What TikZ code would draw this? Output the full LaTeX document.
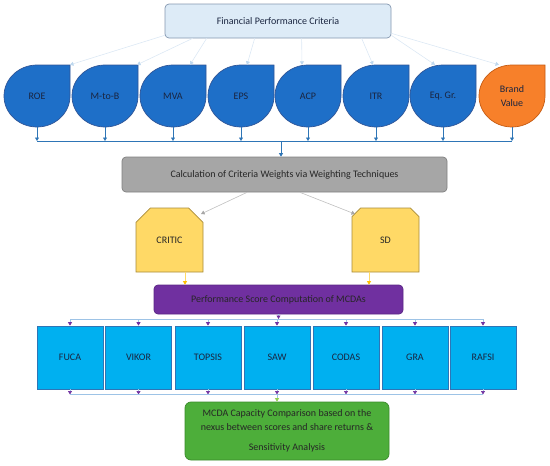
\documentclass[tikz,border=0pt]{standalone}
\usepackage{fontspec}
\setmainfont{Carlito}
\usetikzlibrary{arrows.meta, positioning, calc, shapes.misc}

\definecolor{headfill}{HTML}{DDEBF7}
\definecolor{headline}{HTML}{8497B0}
\definecolor{dropblue}{HTML}{1E6FC8}
\definecolor{dropline}{HTML}{2F5597}
\definecolor{brandorange}{HTML}{F7802A}
\definecolor{brandline}{HTML}{C55A11}
\definecolor{navytext}{HTML}{1A2540}
\definecolor{busblue}{HTML}{2E75B6}
\definecolor{paleblue}{HTML}{DCE8F4}
\definecolor{palehead}{HTML}{BDD7EE}
\definecolor{calcgray}{HTML}{A6A6A6}
\definecolor{calcline}{HTML}{808080}
\definecolor{weightyellow}{HTML}{FFD966}
\definecolor{weightline}{HTML}{A88B3A}
\definecolor{arrowyellow}{HTML}{FFC000}
\definecolor{perfpurple}{HTML}{7030A0}
\definecolor{perfline}{HTML}{5A2784}
\definecolor{mcdacyan}{HTML}{00B0F0}
\definecolor{linkblue}{HTML}{9DC3E6}
\definecolor{resultgreen}{HTML}{4DAE3A}
\definecolor{resultline}{HTML}{3A8A2A}
\definecolor{greenhead}{HTML}{92D050}

\begin{document}
\begin{tikzpicture}[x=1pt, y=1pt, font=\fontsize{10}{12}\selectfont,
    tip/.style={-{Triangle[length=3.5pt, width=4pt, color=#1]}},
    head/.style={draw=headline, fill=headfill, rounded corners=4pt, line width=0.7pt,
      minimum width=226pt, minimum height=34pt, text=navytext},
    drop/.style={minimum width=66pt, minimum height=62pt, inner sep=0pt, align=center, text=navytext},
    calcbox/.style={draw=calcline, fill=calcgray, rounded corners=4pt, line width=0.7pt,
      minimum width=325pt, minimum height=35pt, text=black!85},
    weight/.style={chamfered rectangle, chamfered rectangle corners={north west, north east},
      chamfered rectangle sep=11pt, draw=weightline, fill=weightyellow, line width=0.7pt,
      minimum width=67pt, minimum height=64pt, inner sep=0pt, text=black!85},
    perfbox/.style={draw=perfline, fill=perfpurple, rounded corners=4pt, line width=0.7pt,
      minimum width=249pt, minimum height=29pt, text=black!85},
    mcda/.style={draw=busblue, fill=mcdacyan, line width=0.7pt,
      minimum width=66pt, minimum height=63pt, text=navytext},
    result/.style={draw=resultline, fill=resultgreen, rounded corners=6pt, line width=0.7pt,
      minimum width=204pt, minimum height=58pt, align=center, text=black!85,
      font=\fontsize{10}{14}\selectfont},
    faint/.style={draw=paleblue, line width=0.6pt, tip=palehead},
    bus/.style={draw=busblue, line width=0.6pt},
    link/.style={draw=linkblue, line width=0.7pt}]
  \useasboundingbox (0,0) rectangle (550,-466);

  % criteria
  \node[head] (fpc) at (278,-21) {Financial Performance Criteria};
  \foreach \n/\x/\t/\c/\l in {roe/37/ROE/dropblue/dropline, mtob/105/M-to-B/dropblue/dropline,
      mva/173/MVA/dropblue/dropline, eps/241/EPS/dropblue/dropline, acp/308/ACP/dropblue/dropline,
      itr/376/ITR/dropblue/dropline, eqgr/443/Eq.\ Gr./dropblue/dropline,
      bv/512/Brand\\[2pt]Value/brandorange/brandline} {
    \filldraw[fill=\c, draw=\l, line width=0.7pt] (\x,-65) -- ++(33,0) -- ++(0,-31)
      arc[start angle=0, end angle=-270, x radius=33, y radius=31] -- cycle;
    \node[drop] (\n) at (\x,-96) {\t};
  }
  \draw[faint] ($(fpc.south west)+(0,3)$) -- ($(roe.north)+(33,0)$);
  \draw[faint] ($(fpc.south west)+(28,0)$) -- ($(mtob.north)+(32,0)$);
  \draw[faint] ($(fpc.south west)+(42,0)$) -- ($(mva.north)+(17,0)$);
  \draw[faint] ($(fpc.south west)+(90,0)$) -- ($(eps.north)+(6,0)$);
  \draw[faint] ($(fpc.south west)+(137,0)$) -- ($(acp.north)+(-6,0)$);
  \draw[faint] ($(fpc.south west)+(197,0)$) -- ($(itr.north)+(-3,0)$);
  \draw[faint] ($(fpc.south east)+(0,3)$) -- ($(eqgr.north)+(-8,0)$);
  \draw[faint] ($(fpc.south east)+(0,5)$) -- ($(bv.north)+(-13,0)$);

  % weights
  \node[calcbox] (calc) at (284.5,-174.5) {Calculation of Criteria Weights via Weighting Techniques};
  \coordinate (cbus) at (281,-141);
  \foreach \n in {roe, mtob, mva, eps, acp, itr, eqgr, bv}
    \draw[bus, tip=busblue] (\n.south) -- (\n.south |- cbus);
  \draw[bus] (roe.south |- cbus) -- (bv.south |- cbus);
  \draw[bus, tip=busblue] (cbus) -- (cbus |- calc.north);

  \node[weight] (critic) at (169.5,-240) {CRITIC};
  \node[weight] (sd) at (385.5,-240) {SD};
  \draw[draw=black!25, line width=0.6pt, tip=black!35] ($(calc.south)+(-37.5,0)$) -- ($(critic.center)+(31.5,26)$);
  \draw[draw=black!25, line width=0.6pt, tip=black!35] ($(calc.south)+(15.5,0)$) -- ($(sd.center)+(-30.5,26)$);

  % performance scores
  \node[perfbox] (perf) at (278.5,-299.5) {Performance Score Computation of MCDAs};
  \draw[draw=arrowyellow!60, line width=0.6pt, tip=arrowyellow] ($(critic.south)+(15.5,0)$) coordinate (c1) -- (c1 |- perf.north);
  \draw[draw=arrowyellow!60, line width=0.6pt, tip=arrowyellow] ($(sd.south)+(-16.5,0)$) coordinate (s1) -- (s1 |- perf.north);

  \foreach \n/\x/\t in {fuca/70/FUCA, vikor/138.5/VIKOR, topsis/208/TOPSIS, saw/277/SAW,
      codas/346/CODAS, gra/415/GRA, rafsi/483/RAFSI}
    \node[mcda] (\n) at (\x,-357.5) {\t};
  \coordinate (pbus) at (278.5,-319);
  \draw[link, tip=perfpurple] (perf.south) -- (pbus);
  \draw[link] (fuca.north |- pbus) -- (rafsi.north |- pbus);
  \foreach \n in {fuca, vikor, topsis, saw, codas, gra, rafsi}
    \draw[link, tip=perfpurple] (\n.north |- pbus) -- (\n.north);

  % comparison
  \node[result] (cmp) at (287,-431) {MCDA Capacity Comparison based on the\\nexus between scores and share returns \&\\[6pt]Sensitivity Analysis};
  \coordinate (rbus) at (277,-394.5);
  \foreach \n in {fuca, vikor, topsis, saw, codas, gra, rafsi}
    \draw[link, tip=perfpurple] (\n.south) -- (\n.south |- rbus);
  \draw[link] (fuca.south |- rbus) -- (rafsi.south |- rbus);
  \draw[link, tip=greenhead] (rbus) -- (rbus |- cmp.north);
\end{tikzpicture}
\end{document}
